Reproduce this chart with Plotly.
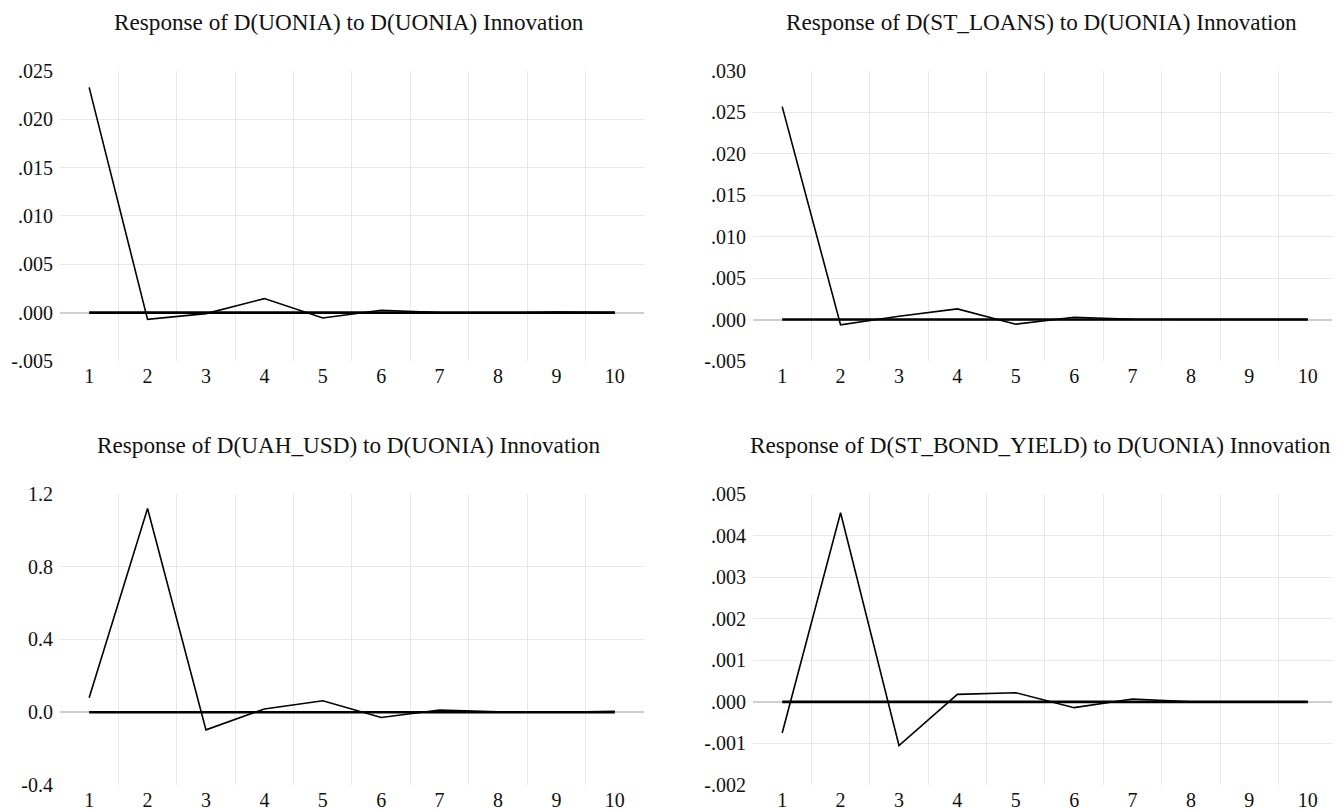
import plotly.graph_objects as go

periods = [1, 2, 3, 4, 5, 6, 7, 8, 9, 10]

titles = [
    "Response of D(UONIA) to D(UONIA) Innovation",
    "Response of D(ST_LOANS) to D(UONIA) Innovation",
    "Response of D(UAH_USD) to D(UONIA) Innovation",
    "Response of D(ST_BOND_YIELD) to D(UONIA) Innovation",
]

uonia = [0.0233, -0.0007, -0.0001, 0.00145, -0.00056, 0.00024, 0.00002, -0.00005, 0.00005, 0.0]
st_loans = [0.0257, -0.00064, 0.0004, 0.00128, -0.00056, 0.00028, 0.00003, -0.00002, 0.00001, 0.0]
uah_usd = [0.08, 1.12, -0.097, 0.018, 0.063, -0.029, 0.012, 0.003, 0.0, 0.005]
bond_yield = [-0.00075, 0.00455, -0.00105, 0.00018, 0.00022, -0.00014, 0.00007, 0.0, 0.0, 0.0]
zero_line = [0.0] * 10

yticks_uonia = [-0.005, 0.0, 0.005, 0.010, 0.015, 0.020, 0.025]
ylabels_uonia = ["-.005", ".000", ".005", ".010", ".015", ".020", ".025"]
yticks_loans = [-0.005, 0.0, 0.005, 0.010, 0.015, 0.020, 0.025, 0.030]
ylabels_loans = ["-.005", ".000", ".005", ".010", ".015", ".020", ".025", ".030"]
yticks_uah = [-0.4, 0.0, 0.4, 0.8, 1.2]
ylabels_uah = ["-0.4", "0.0", "0.4", "0.8", "1.2"]
yticks_bond = [-0.002, -0.001, 0.0, 0.001, 0.002, 0.003, 0.004, 0.005]
ylabels_bond = ["-.002", "-.001", ".000", ".001", ".002", ".003", ".004", ".005"]

series = [uonia, st_loans, uah_usd, bond_yield]
yticks = [yticks_uonia, yticks_loans, yticks_uah, yticks_bond]
ylabels = [ylabels_uonia, ylabels_loans, ylabels_uah, ylabels_bond]

FONT = "Liberation Serif"
xdomains = [[0.0390, 0.4775], [0.5593, 0.9977], [0.0390, 0.4775], [0.5593, 0.9977]]
ydomains = [[0.5599, 0.9215], [0.5599, 0.9215], [0.0312, 0.3940], [0.0312, 0.3940]]
title_x = [0.2560, 0.7760, 0.2560, 0.7752]
title_y = [0.9825, 0.9825, 0.4551, 0.4551]

fig = go.Figure()
layout = dict(
    template="none",
    width=1332, height=802,
    margin=dict(l=0, r=0, t=0, b=0, autoexpand=False),
    paper_bgcolor="white", plot_bgcolor="white",
    showlegend=False,
    font=dict(family=FONT, size=20, color="#111111"),
    annotations=[],
)

grid_x = [p + 0.5 for p in periods[:-1]]

for i in range(4):
    n = "" if i == 0 else str(i + 1)
    xa, ya = "x" + n, "y" + n
    fig.add_trace(go.Scatter(x=periods, y=zero_line, mode="lines",
                             line=dict(color="black", width=2.6),
                             xaxis=xa, yaxis=ya, hoverinfo="skip"))
    fig.add_trace(go.Scatter(x=periods, y=series[i], mode="lines",
                             line=dict(color="black", width=1.6),
                             xaxis=xa, yaxis=ya))
    tv = yticks[i]
    layout["xaxis" + n] = dict(
        domain=xdomains[i], anchor=ya, range=[0.5, 10.5],
        tickmode="array", tickvals=periods, ticktext=[str(p) for p in periods],
        showgrid=False, zeroline=False, showline=False, ticks="",
        automargin=False, ticklabelstandoff=1,
        minor=dict(tickmode="array", tickvals=grid_x, showgrid=True,
                   gridcolor="#e8e8e8", gridwidth=1, ticks=""),
        fixedrange=True,
    )
    layout["yaxis" + n] = dict(
        domain=ydomains[i], anchor=xa, range=[tv[0], tv[-1]],
        tickmode="array", tickvals=tv, ticktext=ylabels[i],
        showgrid=False, showline=False, ticks="",
        zeroline=True, zerolinecolor="#cfcfcf", zerolinewidth=2,
        automargin=False, ticklabelstandoff=6,
        minor=dict(tickmode="array", tickvals=[v for v in tv[1:-1] if v != 0],
                   showgrid=True, gridcolor="#e8e8e8", gridwidth=1, ticks=""),
        fixedrange=True,
    )
    layout["annotations"].append(dict(
        text=titles[i], xref="paper", yref="paper",
        x=title_x[i], y=title_y[i],
        xanchor="center", yanchor="middle", showarrow=False,
        font=dict(family=FONT, size=23.2, color="#111111"),
    ))

fig.update_layout(**layout)
fig.write_html("out.html")
